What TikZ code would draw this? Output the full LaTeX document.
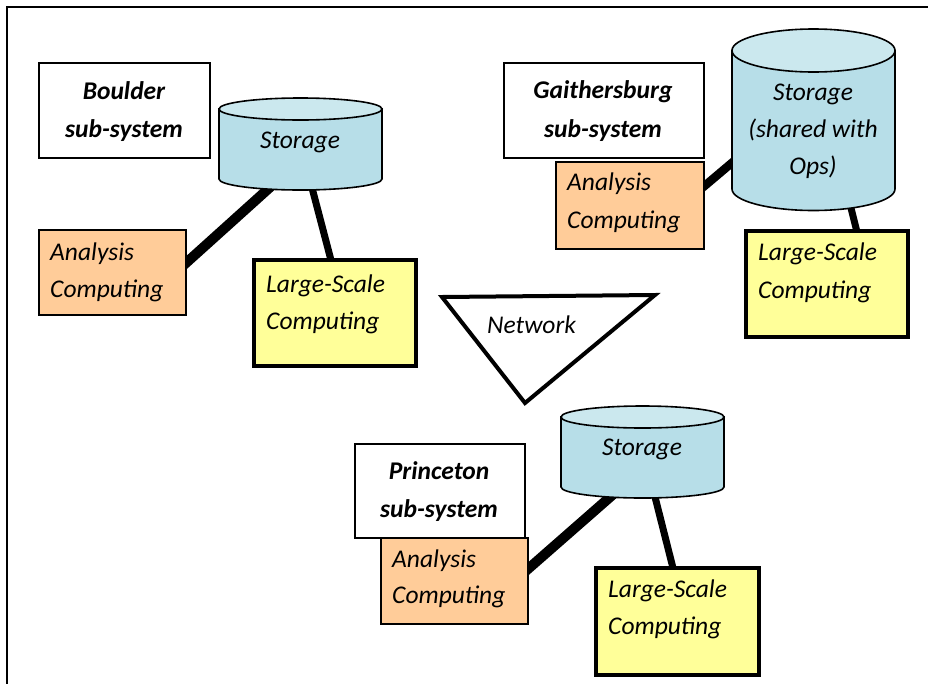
\documentclass[tikz,border=0pt]{standalone}
\usepackage{fontspec}
\setmainfont{Carlito}
\definecolor{cylbody}{HTML}{B7DEE8}
\definecolor{cyltop}{HTML}{CBE8EE}
\definecolor{anafill}{HTML}{FFCC99}
\definecolor{bigfill}{HTML}{FFFF99}
% storage drum: name, left x, right x, top-ellipse centre y, bottom-ellipse centre y, ellipse y radius
\newcommand\storagecyl[6]{%
  \filldraw[cylline, fill=cylbody] (#2,#4) -- (#2,#5)
    arc[start angle=180, end angle=0, x radius={(#3-#2)/2}, y radius=#6] -- (#3,#4) -- cycle;
  \filldraw[cylline, fill=cyltop] ({(#2+#3)/2},#4) ellipse[x radius={(#3-#2)/2}, y radius=#6];
  \node[inner sep=0, minimum width={#3-#2}, minimum height={#5-#4+2*#6}] (#1)
    at ({(#2+#3)/2},{(#4+#5)/2}) {};
}
\begin{document}
\begin{tikzpicture}[x=1pt, y=-1pt,
  cylline/.style={line width=1.6pt},
  sitebox/.style={draw, line width=1.5pt, fill=white, anchor=north west, inner sep=0},
  anabox/.style={draw, line width=1.5pt, fill=anafill, anchor=north west, inner sep=0},
  bigbox/.style={draw, line width=3.5pt, fill=bigfill, anchor=north west, inner sep=0},
  heavylink/.style={line width=10pt},
  lightlink/.style={line width=7pt},
  netshape/.style={line width=4pt, line join=miter},
  lbl/.style={inner sep=0, anchor=base west, font=\fontsize{25.5}{37}\selectfont\itshape},
  clbl/.style={inner sep=0, anchor=base, font=\fontsize{25.5}{37}\selectfont\itshape},
  ttl/.style={inner sep=0, anchor=base, font=\fontsize{25.5}{37}\selectfont\bfseries\itshape}]
\useasboundingbox (0,0) rectangle (928,683);
\clip (0,0) rectangle (928,683);

% outer frame (runs past the right and bottom edges)
\draw[line width=2pt] (6.5,6.5) rectangle (960,720);

% connector end points
\coordinate (b-a1) at (180,268.4);  \coordinate (b-a2) at (273,184.6);
\coordinate (b-l1) at (311,184);    \coordinate (b-l2) at (332,264);
\coordinate (g-a1) at (695,194);    \coordinate (g-a2) at (740,156);
\coordinate (g-l1) at (849,200);    \coordinate (g-l2) at (858,236);
\coordinate (p-a1) at (520,576);    \coordinate (p-a2) at (617,491);
\coordinate (p-l1) at (653,489);    \coordinate (p-l2) at (674,572);

\draw[heavylink] (b-a1) -- (b-a2);
\draw[lightlink] (b-l1) -- (b-l2);
\draw[heavylink, line width=8.5pt] (g-a1) -- (g-a2);
\draw[lightlink] (g-l1) -- (g-l2);
\draw[heavylink] (p-a1) -- (p-a2);
\draw[lightlink] (p-l1) -- (p-l2);

% Boulder
\node[sitebox, minimum width=171pt, minimum height=95pt] (bsys) at (38,62) {};
\node[anabox, minimum width=147pt, minimum height=85pt] (bana) at (38,229) {};
\node[bigbox, minimum width=162pt, minimum height=106pt] (bbig) at (252,258) {};
\storagecyl{bsto}{219}{382}{109}{179}{11}

% Gaithersburg
\node[sitebox, minimum width=200pt, minimum height=95pt] (gsys) at (503,62) {};
\node[anabox, minimum width=148pt, minimum height=87pt] (gana) at (555,161) {};
\node[bigbox, minimum width=162pt, minimum height=106pt] (gbig) at (744,229) {};
\storagecyl{gsto}{732}{895}{50.5}{189}{21.5}

% Princeton
\node[sitebox, minimum width=170pt, minimum height=94pt] (psys) at (354,443) {};
\node[anabox, minimum width=147pt, minimum height=86pt] (pana) at (380,537) {};
\node[bigbox, minimum width=163pt, minimum height=107pt] (pbig) at (594,566) {};
\storagecyl{psto}{561}{724}{417}{487}{11}

% network
\coordinate (n1) at (442,297);
\coordinate (n2) at (655,295);
\coordinate (n3) at (525,403);
\draw[netshape] (n1) -- (n2) -- (n3) -- cycle;
\node[lbl] (nettxt) at (487,333) {Network};

% labels
\node[ttl] (bt1) at (124,99) {Boulder};
\node[ttl] (bt2) at (124,137) {sub-system};
\node[clbl] (bs1) at (300,148) {Storage};
\node[lbl] (ba1) at (50,260) {Analysis};
\node[lbl] (ba2) at (50,297) {Computing};
\node[lbl] (bl1) at (266,292) {Large-Scale};
\node[lbl] (bl2) at (266,329) {Computing};

\node[ttl] (gt1) at (603,98) {Gaithersburg};
\node[ttl] (gt2) at (603,137) {sub-system};
\node[clbl] (gs1) at (813,100) {Storage};
\node[clbl] (gs2) at (813,137) {(shared with};
\node[clbl] (gs3) at (813,174) {Ops)};
\node[lbl] (ga1) at (567,190) {Analysis};
\node[lbl] (ga2) at (567,228) {Computing};
\node[lbl] (gl1) at (758,260) {Large-Scale};
\node[lbl] (gl2) at (758,298) {Computing};

\node[ttl] (pt1) at (439,479) {Princeton};
\node[ttl] (pt2) at (439,517) {sub-system};
\node[clbl] (ps1) at (642,455) {Storage};
\node[lbl] (pa1) at (392,567) {Analysis};
\node[lbl] (pa2) at (392,603) {Computing};
\node[lbl] (pl1) at (608,597) {Large-Scale};
\node[lbl] (pl2) at (608,634) {Computing};
\end{tikzpicture}
\end{document}
